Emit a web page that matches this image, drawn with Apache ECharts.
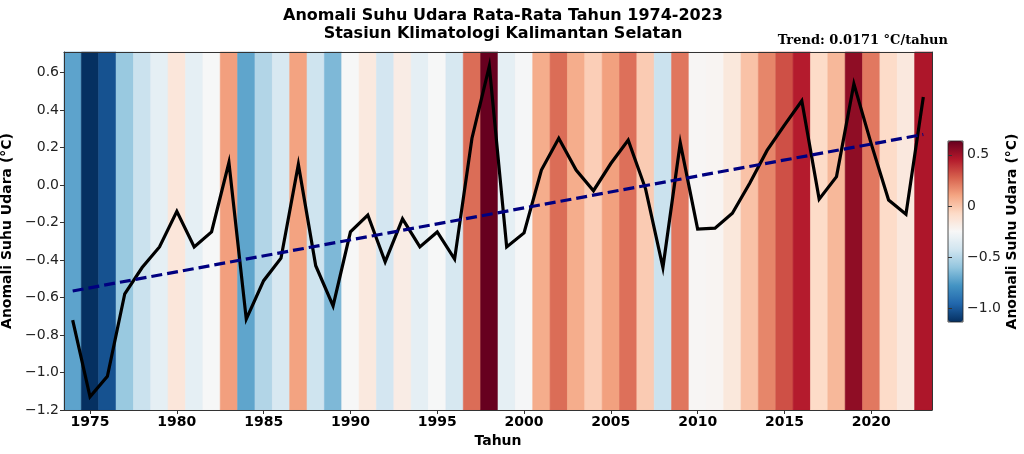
<!DOCTYPE html>
<html>
<head>
<meta charset="utf-8">
<script src="https://cdn.jsdelivr.net/npm/echarts@6/dist/echarts.min.js"></script>
<style>
html,body{margin:0;padding:0;background:#fff;}
#chart{width:1024px;height:454px;}
</style>
</head>
<body>
<div id="chart"></div>
<script>
// ---- data ----
const years = [1974,1975,1976,1977,1978,1979,1980,1981,1982,1983,1984,1985,1986,1987,1988,1989,1990,1991,1992,1993,1994,1995,1996,1997,1998,1999,2000,2001,2002,2003,2004,2005,2006,2007,2008,2009,2010,2011,2012,2013,2014,2015,2016,2017,2018,2019,2020,2021,2022,2023];
const anomalies = [-0.72,-1.13,-1.02,-0.58,-0.44,-0.33,-0.14,-0.33,-0.25,0.12,-0.715,-0.51,-0.39,0.11,-0.43,-0.645,-0.25,-0.16,-0.41,-0.18,-0.33,-0.25,-0.395,0.25,0.635,-0.33,-0.255,0.08,0.25,0.08,-0.03,0.115,0.24,-0.02,-0.44,0.225,-0.235,-0.23,-0.15,0.01,0.185,0.32,0.45,-0.075,0.045,0.54,0.22,-0.08,-0.155,0.47];
const trendYears = [1974, 2023];
const trendValues = [-0.565, 0.27];
const xTickLabels = [1975,1980,1985,1990,1995,2000,2005,2010,2015,2020];
const yTickLabels = [-1.2,-1.0,-0.8,-0.6,-0.4,-0.2,0.0,0.2,0.4,0.6];
const cbarTickLabels = [-1.0,-0.5,0,0.5];
const cbarTickText = ['\u22121.0','\u22120.5','0','0.5'];
const titleText = 'Anomali Suhu Udara Rata-Rata Tahun 1974-2023\nStasiun Klimatologi Kalimantan Selatan';
const trendText = 'Trend: 0.0171 \u00b0C/tahun';
const yName = 'Anomali Suhu Udara (\u00b0C)';
const xName = 'Tahun';
const rdbu_r = ['#053061','#2166ac','#4393c3','#92c5de','#d1e5f0','#f7f7f7','#fddbc7','#f4a582','#d6604d','#b2182b','#67001f'];

const Y_MIN = -1.2, Y_MAX = 0.71;
const X_MIN = 1973.5, X_MAX = 2023.5;
const vmin = Math.min(...anomalies), vmax = Math.max(...anomalies);

const FONT = '"DejaVu Sans", sans-serif';
const minus = v => String(v).replace('-', '\u2212');

const stripeData = years.map((y, i) => [y, anomalies[i]]);
const lineData = years.map((y, i) => [y, anomalies[i]]);
const trendData = trendYears.map((y, i) => [y, trendValues[i]]);

const chart = echarts.init(document.getElementById('chart'), null, {renderer: 'canvas'});
chart.setOption({
  animation: false,
  backgroundColor: '#ffffff',
  textStyle: {fontFamily: FONT},
  title: {
    text: titleText,
    left: 498, top: 2, textAlign: 'center',
    textStyle: {fontFamily: FONT, fontSize: 16, fontWeight: 'bold', color: '#000', lineHeight: 18}
  },
  graphic: [{
    type: 'text', right: 76, top: 34, z: 20,
    style: {text: trendText, font: 'bold 13px "DejaVu Serif", serif', fill: '#000'}
  }],
  grid: [
    {left: 64, right: 92, top: 52, bottom: 44, containLabel: false, outerBoundsMode: 'none'},
    {left: 948, width: 15, top: 141, height: 181, show: true, borderColor: '#222', borderWidth: 0.8, backgroundColor: 'transparent', z: 10, containLabel: false, outerBoundsMode: 'none'}
  ],
  visualMap: [{
    type: 'continuous', seriesIndex: 0, dimension: 1,
    min: vmin, max: vmax, calculable: false, hoverLink: false,
    orient: 'vertical', left: 948, top: 141, itemWidth: 15, itemHeight: 181, padding: 0,
    inRange: {color: rdbu_r}, text: null, showLabel: false
  }],
  xAxis: [
    {
      type: 'value', gridIndex: 0, min: X_MIN, max: X_MAX, z: 10,
      name: xName, nameLocation: 'middle', nameGap: 23,
      nameTextStyle: {fontFamily: FONT, fontSize: 14, fontWeight: 'bold', color: '#000'},
      axisLine: {show: true, onZero: false, lineStyle: {color: '#333', width: 1}},
      axisTick: {show: true, length: 4, lineStyle: {color: '#333'}, customValues: xTickLabels},
      axisLabel: {customValues: xTickLabels, fontFamily: FONT, fontSize: 14, fontWeight: 'bold', color: '#000', margin: 5, formatter: v => String(v)},
      splitLine: {show: false}
    },
    {
      type: 'value', gridIndex: 0, position: 'top', min: X_MIN, max: X_MAX, z: 10,
      axisLine: {show: true, onZero: false, lineStyle: {color: '#333', width: 1}},
      axisTick: {show: false}, axisLabel: {show: false}, splitLine: {show: false}
    },
    {
      type: 'value', gridIndex: 1, min: 0, max: 1, show: false
    }
  ],
  yAxis: [
    {
      type: 'value', gridIndex: 0, min: Y_MIN, max: Y_MAX, z: 10,
      name: yName, nameLocation: 'middle', nameGap: 38, nameRotate: 90,
      nameTextStyle: {fontFamily: FONT, fontSize: 14, fontWeight: 'bold', color: '#000'},
      axisLine: {show: true, onZero: false, lineStyle: {color: '#333', width: 1}},
      axisTick: {show: true, length: 4, lineStyle: {color: '#333'}, customValues: yTickLabels},
      axisLabel: {customValues: yTickLabels, fontFamily: FONT, fontSize: 14, color: '#222', margin: 5,
        formatter: v => minus(Number(v).toFixed(1))},
      splitLine: {show: false}
    },
    {
      type: 'value', gridIndex: 0, position: 'right', min: Y_MIN, max: Y_MAX, z: 10,
      axisLine: {show: true, onZero: false, lineStyle: {color: '#333', width: 1}},
      axisTick: {show: false}, axisLabel: {show: false}, splitLine: {show: false}
    },
    {
      type: 'value', gridIndex: 1, position: 'right', min: vmin, max: vmax, z: 10,
      name: yName, nameLocation: 'middle', nameGap: 41, nameRotate: 90,
      nameTextStyle: {fontFamily: FONT, fontSize: 14, fontWeight: 'bold', color: '#000'},
      axisLine: {show: false},
      axisTick: {show: true, length: 4, lineStyle: {color: '#333'}, customValues: cbarTickLabels},
      axisLabel: {customValues: cbarTickLabels, fontFamily: FONT, fontSize: 14, color: '#222', margin: 4,
        formatter: v => { const i = cbarTickLabels.findIndex(t => Math.abs(t - v) < 1e-6); return i >= 0 ? cbarTickText[i] : ''; }},
      splitLine: {show: false}
    }
  ],
  series: [
    {
      type: 'custom', xAxisIndex: 0, yAxisIndex: 0, z: 1,
      data: stripeData,
      encode: {x: 0, y: 1},
      renderItem: (params, api) => {
        const yr = api.value(0);
        const p0 = api.coord([yr - 0.5, Y_MAX]);
        const p1 = api.coord([yr + 0.5, Y_MIN]);
        const c = api.visual('color');
        return {
          type: 'rect',
          shape: {x: p0[0], y: p0[1], width: p1[0] - p0[0], height: p1[1] - p0[1]},
          style: {fill: c, stroke: c, lineWidth: 0.6}
        };
      },
      silent: true
    },
    {
      type: 'line', xAxisIndex: 0, yAxisIndex: 0, z: 3,
      data: lineData, showSymbol: false, symbol: 'none',
      lineStyle: {color: '#000', width: 3.2, join: 'miter'}
    },
    {
      type: 'line', xAxisIndex: 0, yAxisIndex: 0, z: 4,
      data: trendData, showSymbol: false, symbol: 'none',
      lineStyle: {color: '#000080', width: 3.2, type: [11, 5]}
    }
  ]
});
</script>
</body>
</html>
